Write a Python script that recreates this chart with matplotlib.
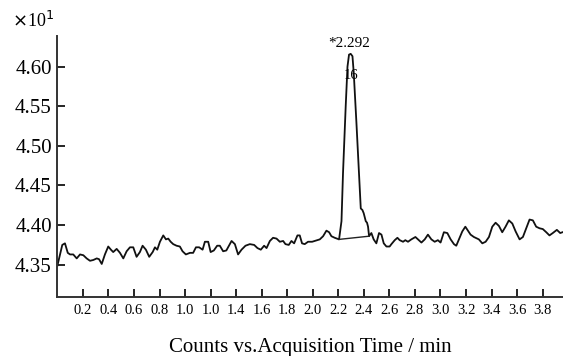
import matplotlib.pyplot as plt

plt.rcParams['font.family'] = ['Liberation Serif', 'DejaVu Serif']

# acquisition time (min) and counts (x10^1)
time = [0.000, 0.038, 0.059, 0.081, 0.099, 0.124, 0.151, 0.177, 0.203, 0.229,
        0.255, 0.281, 0.308, 0.326, 0.347, 0.372, 0.398, 0.419, 0.437, 0.464,
        0.490, 0.516, 0.542, 0.568, 0.594, 0.620, 0.646, 0.667, 0.693, 0.719,
        0.746, 0.764, 0.782, 0.803, 0.829, 0.850, 0.868, 0.887, 0.907, 0.933,
        0.959, 0.980, 1.006, 1.038, 1.063, 1.085, 1.110, 1.137, 1.155, 1.181,
        1.200, 1.225, 1.251, 1.272, 1.298, 1.323, 1.364, 1.390, 1.415, 1.442,
        1.473, 1.507, 1.541, 1.567, 1.593, 1.619, 1.638, 1.664, 1.689, 1.716,
        1.742, 1.768, 1.786, 1.812, 1.833, 1.854, 1.880, 1.898, 1.916, 1.937,
        1.963, 1.995, 2.016, 2.055, 2.081, 2.107, 2.128, 2.146, 2.172, 2.206,
        2.225, 2.237, 2.258, 2.272, 2.284, 2.297, 2.311, 2.321, 2.342, 2.362,
        2.376, 2.389, 2.399, 2.415, 2.425, 2.433, 2.441, 2.459, 2.477, 2.498,
        2.519, 2.538, 2.556, 2.577, 2.602, 2.616, 2.642, 2.663, 2.681, 2.707,
        2.725, 2.746, 2.772, 2.804, 2.824, 2.851, 2.877, 2.902, 2.929, 2.955,
        2.980, 3.001, 3.027, 3.054, 3.080, 3.106, 3.124, 3.150, 3.171, 3.195,
        3.215, 3.236, 3.262, 3.301, 3.328, 3.354, 3.380, 3.406, 3.432, 3.458,
        3.484, 3.510, 3.536, 3.563, 3.589, 3.620, 3.646, 3.672, 3.698, 3.724,
        3.750, 3.776, 3.802, 3.829, 3.854, 3.880, 3.912, 3.938, 3.956]
counts = [4.349, 4.375, 4.377, 4.365, 4.363, 4.363, 4.358, 4.363, 4.362, 4.358,
          4.355, 4.356, 4.358, 4.357, 4.351, 4.363, 4.373, 4.369, 4.366, 4.370,
          4.365, 4.358, 4.367, 4.372, 4.372, 4.360, 4.366, 4.374, 4.369, 4.360,
          4.366, 4.372, 4.369, 4.379, 4.387, 4.382, 4.383, 4.379, 4.376, 4.374,
          4.373, 4.367, 4.363, 4.365, 4.365, 4.372, 4.372, 4.369, 4.379, 4.379,
          4.366, 4.368, 4.374, 4.374, 4.367, 4.368, 4.380, 4.376, 4.363, 4.369,
          4.374, 4.376, 4.375, 4.371, 4.369, 4.374, 4.371, 4.380, 4.384, 4.383,
          4.379, 4.380, 4.376, 4.375, 4.380, 4.377, 4.387, 4.387, 4.377, 4.376,
          4.379, 4.379, 4.380, 4.382, 4.386, 4.393, 4.391, 4.386, 4.384, 4.382,
          4.405, 4.466, 4.550, 4.600, 4.615, 4.616, 4.613, 4.592, 4.529, 4.466,
          4.421, 4.419, 4.415, 4.405, 4.403, 4.398, 4.386, 4.390, 4.382, 4.377,
          4.390, 4.388, 4.377, 4.373, 4.373, 4.376, 4.381, 4.384, 4.381, 4.379,
          4.381, 4.379, 4.382, 4.385, 4.382, 4.378, 4.382, 4.388, 4.382, 4.379,
          4.381, 4.378, 4.391, 4.390, 4.382, 4.376, 4.374, 4.384, 4.392, 4.398,
          4.393, 4.388, 4.385, 4.382, 4.377, 4.379, 4.385, 4.398, 4.403, 4.399,
          4.391, 4.398, 4.406, 4.402, 4.392, 4.382, 4.385, 4.396, 4.407, 4.406,
          4.398, 4.396, 4.395, 4.391, 4.387, 4.390, 4.394, 4.390, 4.391]

# integration baseline under the peak
base_t = [2.206, 2.441]
base_y = [4.382, 4.386]

peak_t = 2.292
peak_y = 4.616
peak_id = "16"

xticks = [0.2, 0.4, 0.6, 0.8, 1.0, 1.2, 1.4, 1.6, 1.8, 2.0,
          2.2, 2.4, 2.6, 2.8, 3.0, 3.2, 3.4, 3.6, 3.8]
xtick_labels = ["0.2", "0.4", "0.6", "0.8", "1.0", "1.0", "1.4", "1.6", "1.8", "2.0",
                "2.2", "2.4", "2.6", "2.8", "3.0", "3.2", "3.4", "3.6", "3.8"]
yticks = [4.35, 4.40, 4.45, 4.50, 4.55, 4.60]

fig = plt.figure(figsize=(5.63, 3.56), dpi=100)
ax = fig.add_axes([0.102, 0.165, 0.898, 0.735])

ax.plot(time, counts, color='#111111', lw=1.3)
ax.plot(base_t, base_y, color='#222222', lw=1.0)

ax.text(peak_t - 0.01, peak_y + 0.013, "*" + str(peak_t), ha='center', va='center', fontsize=11)
ax.text(peak_t + 0.005, peak_y - 0.027, peak_id, ha='center', va='center', fontsize=10.5)

ax.set_xlim(0, 3.96)
ax.set_ylim(4.309, 4.639)
ax.set_xticks(xticks)
ax.set_xticklabels(xtick_labels)
ax.set_yticks(yticks)
ax.set_yticklabels(["%.2f" % v for v in yticks])

ax.tick_params(axis='x', direction='in', length=6, width=1.2, labelsize=10.5, pad=5)
ax.tick_params(axis='y', direction='in', length=6, width=1.2, labelsize=15, pad=4)

for side in ['top', 'right']:
    ax.spines[side].set_visible(False)
for side in ['left', 'bottom']:
    ax.spines[side].set_color('#333333')
    ax.spines[side].set_linewidth(1.4)

ax.set_xlabel("Counts vs.Acquisition Time / min", fontsize=15, labelpad=15)
fig.text(0.022, 0.94, r"$\times$10$^{1}$", fontsize=13, va='center', ha='left')

fig.savefig("out.png", dpi=100)
